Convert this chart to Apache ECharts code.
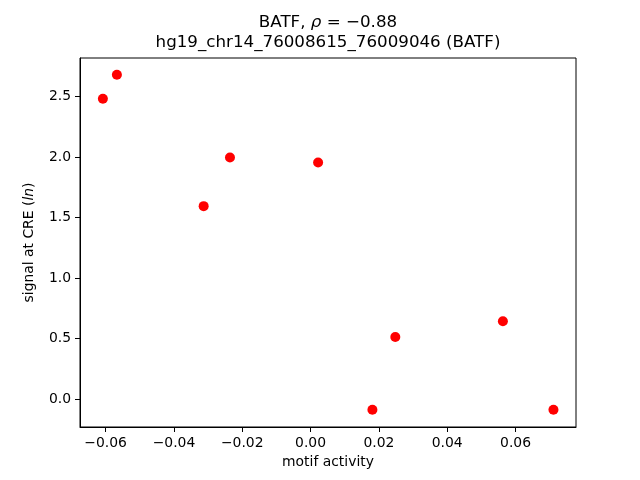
<!DOCTYPE html>
<html>
<head>
<meta charset="utf-8">
<script src="https://cdn.jsdelivr.net/npm/echarts@6/dist/echarts.min.js"></script>
<style>
  html, body { margin: 0; padding: 0; background: #fff; }
  #chart { width: 640px; height: 480px; }
</style>
</head>
<body>
<div id="chart"></div>
<script>
// values
var motifActivity = [-0.0608, -0.0567, -0.0313, -0.0236, 0.0022, 0.0181, 0.0248, 0.0563, 0.0711]
var creSignal = [2.483, 2.681, 1.595, 1.997, 1.955, -0.088, 0.514, 0.644, -0.088]
var xTicks = [-0.06, -0.04, -0.02, 0, 0.02, 0.04, 0.06]
var yTicks = [0, 0.5, 1, 1.5, 2, 2.5]

var font = 'DejaVu Sans'
var points = motifActivity.map(function (x, i) { return [x, creSignal[i]] })

function fmt(v, d) {
  var s = Math.abs(v).toFixed(d)
  return (v < 0 ? '\u2212' : '') + s
}

var myChart = echarts.init(document.getElementById('chart'))
myChart.setOption({
  animation: false,
  backgroundColor: '#fff',
  title: {
    text: 'BATF, {i|ρ} = \u22120.88\nhg19_chr14_76008615_76009046 (BATF)',
    left: 328,
    top: 13,
    padding: 0,
    textAlign: 'center',
    textStyle: {
      fontFamily: font,
      fontSize: 16.7,
      fontWeight: 'normal',
      color: '#000',
      lineHeight: 20,
      rich: {
        i: { fontFamily: font, fontSize: 16.7, fontStyle: 'italic', lineHeight: 20, color: '#000' }
      }
    }
  },
  grid: {
    left: 80,
    right: 64,
    top: 58,
    bottom: 53,
    show: true,
    borderColor: '#000',
    borderWidth: 1
  },
  xAxis: {
    type: 'value',
    min: -0.0675,
    max: 0.0777,
    name: 'motif activity',
    nameLocation: 'middle',
    nameGap: 28,
    nameTextStyle: { fontFamily: font, fontSize: 13.9, color: '#000' },
    axisLine: { show: true, onZero: false, lineStyle: { color: '#000', width: 1 } },
    axisTick: { show: true, length: 5, customValues: xTicks, lineStyle: { color: '#000' } },
    axisLabel: {
      customValues: xTicks,
      margin: 9,
      fontFamily: font,
      fontSize: 13.9,
      color: '#000',
      formatter: function (v) { return fmt(v, 2) }
    },
    splitLine: { show: false }
  },
  yAxis: {
    type: 'value',
    min: -0.23,
    max: 2.819,
    name: 'signal at CRE ({i|ln})',
    nameLocation: 'middle',
    nameGap: 44,
    nameTextStyle: {
      fontFamily: font,
      fontSize: 13.9,
      color: '#000',
      rich: { i: { fontFamily: font, fontSize: 13.9, fontStyle: 'italic', color: '#000' } }
    },
    axisLine: { show: true, onZero: false, lineStyle: { color: '#000', width: 1 } },
    axisTick: { show: true, length: 5, customValues: yTicks, lineStyle: { color: '#000' } },
    axisLabel: {
      customValues: yTicks,
      margin: 9,
      fontFamily: font,
      fontSize: 13.9,
      color: '#000',
      formatter: function (v) { return fmt(v, 1) }
    },
    splitLine: { show: false }
  },
  series: [
    {
      type: 'scatter',
      data: points,
      symbol: 'circle',
      symbolSize: 10,
      itemStyle: { color: '#ff0000', opacity: 1 }
    }
  ]
})
</script>
</body>
</html>
